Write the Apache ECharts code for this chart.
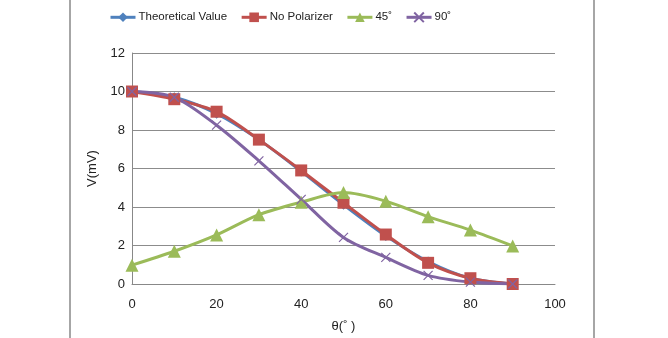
<!DOCTYPE html>
<html>
<head>
<meta charset="utf-8">
<script src="https://cdn.jsdelivr.net/npm/echarts@6/dist/echarts.min.js"></script>
<style>
  html, body { margin: 0; padding: 0; background: #fff; }
  #chart { width: 668px; height: 338px; }
</style>
</head>
<body>
<div id="chart"></div>
<script>
// Polarizer angle θ (degrees) and measured output voltage V (mV)
const angles = [0, 10, 20, 30, 40, 50, 60, 70, 80, 90];
const theoretical = [10, 9.7, 8.85, 7.5, 5.85, 4.12, 2.5, 1.17, 0.3, 0];
const noPolarizer = [10, 9.6, 8.95, 7.5, 5.9, 4.22, 2.57, 1.1, 0.3, 0];
const pol45 = [0.98, 1.7, 2.55, 3.6, 4.25, 4.75, 4.3, 3.5, 2.8, 1.98];
const pol90 = [10, 9.7, 8.25, 6.4, 4.4, 2.42, 1.38, 0.45, 0.1, 0];
const seriesNames = ['Theoretical Value', 'No Polarizer', '45˚', '90˚'];
const xTicks = [0, 20, 40, 60, 80, 100];
const yTicks = [0, 2, 4, 6, 8, 10, 12];

const pairs = arr => angles.map((a, i) => [a, arr[i]]);
const font = '"Liberation Sans", Arial, sans-serif';
const crossPath = 'path://M0,0 L10,10 M10,0 L0,10';

function lineSeries(name, values, color, symbol, size, extra) {
  return Object.assign({
    name: name,
    type: 'line',
    smooth: 0.3,
    data: pairs(values),
    symbol: symbol,
    symbolSize: size,
    lineStyle: { color: color, width: 3 },
    itemStyle: { color: color },
    z: 2
  }, extra || {});
}

const chart = echarts.init(document.getElementById('chart'), null, { renderer: 'canvas' });
chart.setOption({
  animation: false,
  backgroundColor: '#fff',
  textStyle: { fontFamily: font },
  legend: {
    top: 5,
    left: 104,
    itemWidth: 25,
    itemHeight: 12,
    itemGap: 13,
    lineStyle: { width: 3 },
    textStyle: { fontSize: 11.5, color: '#222', fontFamily: font, padding: [0, 0, 0, -2] },
    data: seriesNames
  },
  grid: { left: 132, right: 113, top: 53, bottom: 52 },
  xAxis: {
    type: 'value',
    min: 0, max: 100, interval: 20,
    name: 'θ(˚ )',
    nameLocation: 'middle',
    nameGap: 36,
    nameTextStyle: { fontSize: 13, color: '#222' },
    axisLine: { lineStyle: { color: '#888', width: 1 } },
    axisTick: { show: false },
    axisLabel: { fontSize: 13, color: '#222', margin: 14,
      formatter: v => xTicks.includes(v) ? String(v) : '' },
    splitLine: { show: false }
  },
  yAxis: {
    type: 'value',
    min: 0, max: 12, interval: 2,
    name: 'V(mV)',
    nameLocation: 'middle',
    nameGap: 33,
    nameTextStyle: { fontSize: 13, color: '#222' },
    axisLine: { show: true, lineStyle: { color: '#888', width: 1 } },
    axisTick: { show: false },
    axisLabel: { fontSize: 13, color: '#222', margin: 7,
      formatter: v => yTicks.includes(v) ? String(v) : '' },
    splitLine: { lineStyle: { color: '#8c8c8c', width: 1 } }
  },
  series: [
    lineSeries(seriesNames[0], theoretical, '#4F81BD', 'diamond', 10),
    lineSeries(seriesNames[1], noPolarizer, '#C0504D', 'rect', 12),
    lineSeries(seriesNames[2], pol45, '#9BBB59', 'triangle', 13),
    lineSeries(seriesNames[3], pol90, '#8064A2', crossPath, 9, {
      itemStyle: { color: 'none', borderColor: '#8064A2', borderWidth: 1.2 }
    })
  ],
  graphic: [
    { type: 'line', shape: { x1: 70, y1: 0, x2: 70, y2: 338 },
      style: { stroke: '#888', lineWidth: 1.5 } },
    { type: 'line', shape: { x1: 594, y1: 0, x2: 594, y2: 338 },
      style: { stroke: '#888', lineWidth: 1.5 } }
  ]
});
</script>
</body>
</html>
